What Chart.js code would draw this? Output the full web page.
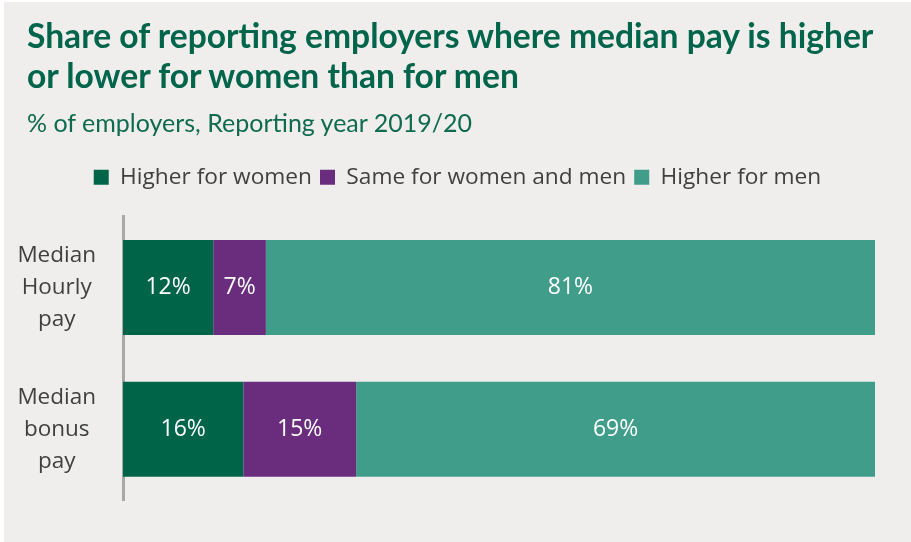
<!DOCTYPE html>
<html>
<head>
<meta charset="utf-8">
<script src="https://cdn.jsdelivr.net/npm/chart.js@4.4.1/dist/chart.umd.min.js"></script>
<style>
  html, body { margin: 0; padding: 0; }
  body { width: 911px; height: 542px; background: #ffffff; position: relative; overflow: hidden; }
  #panel { position: absolute; left: 4px; top: 2px; right: 0; bottom: 0; background: #efeeed; }
  #titulo { position: absolute; left: 27px; top: 15px; margin: 0; font: 700 33.6px Lato, sans-serif; line-height: 40px; color: #00654a; }
  #subtitulo { position: absolute; left: 27px; top: 107px; margin: 0; font: 400 25px Lato, sans-serif; color: #0f6b4f; }
  #grafico { position: absolute; left: 0; top: 0; }
</style>
</head>
<body>
<div id="panel"></div>
<canvas id="grafico" width="911" height="542"></canvas>
<h1 id="titulo">Share of reporting employers where median pay is higher<br>or lower for women than for men</h1>
<p id="subtitulo">% of employers, Reporting year 2019/20</p>
<script>
// Datos del gráfico
const categorias = [["Median", "Hourly", "pay"], ["Median", "bonus", "pay"]]
const series = ["Higher for women", "Same for women and men", "Higher for men"]
const higher_women = [12, 16]
const same_pay = [7, 15]
const higher_men = [81, 69]
const colores = ["#006548", "#6a2d7d", "#409d89"]

const valores = [higher_women, same_pay, higher_men]

// etiquetas de valor dentro de cada segmento
const etiquetasBarras = {
    id: "etiquetasBarras",
    afterDatasetsDraw(chart) {
        const ctx = chart.ctx
        ctx.save()
        ctx.font = "23px 'Open Sans', sans-serif"
        ctx.fillStyle = "#ffffff"
        ctx.textAlign = "center"
        ctx.textBaseline = "middle"
        chart.data.datasets.forEach((ds, i) => {
            chart.getDatasetMeta(i).data.forEach((bar, j) => {
                const p = bar.getCenterPoint()
                ctx.fillText(ds.data[j] + "%", p.x, p.y)
            })
        })
        ctx.restore()
    }
}

// más aire debajo de la leyenda y leyenda centrada en todo el ancho
const ajusteLeyenda = {
    id: "ajusteLeyenda",
    beforeInit(chart) {
        const leyenda = chart.legend
        const fitOriginal = leyenda.fit
        leyenda.fit = function () {
            fitOriginal.call(this)
            this.height += 18
        }
        const drawOriginal = leyenda.draw
        leyenda.draw = function () {
            const dx = 18
            this.left += dx
            this.right += dx
            drawOriginal.call(this)
            this.left -= dx
            this.right -= dx
        }
    }
}

new Chart(document.getElementById("grafico"), {
    type: "bar",
    data: {
        labels: categorias,
        datasets: series.map((nombre, i) => ({
            label: nombre,
            data: valores[i],
            backgroundColor: colores[i],
            barPercentage: 0.67,
            categoryPercentage: 1
        }))
    },
    options: {
        indexAxis: "y",
        responsive: false,
        animation: false,
        layout: { padding: { top: 158, right: 36, bottom: 42, left: 4 } },
        plugins: {
            legend: {
                labels: {
                    boxWidth: 15,
                    boxHeight: 15,
                    color: "#404040",
                    padding: 8,
                    font: { family: "'Open Sans'", size: 22.7 }
                }
            },
            tooltip: { enabled: false }
        },
        scales: {
            x: {
                stacked: true,
                min: 0,
                max: 100,
                display: false
            },
            y: {
                stacked: true,
                grid: { display: false },
                border: { color: "#a8a8a8", width: 3 },
                ticks: {
                    color: "#404040",
                    crossAlign: "center",
                    padding: 19,
                    font: { family: "'Open Sans'", size: 22.5, lineHeight: 1.42 }
                },
                afterFit(scale) {
                    // ancho fijo y sin reserva vertical para las etiquetas de varias líneas
                    scale.width = 119
                    scale.paddingTop = 0
                    scale.paddingBottom = 0
                }
            }
        }
    },
    plugins: [etiquetasBarras, ajusteLeyenda]
})
</script>
</body>
</html>
